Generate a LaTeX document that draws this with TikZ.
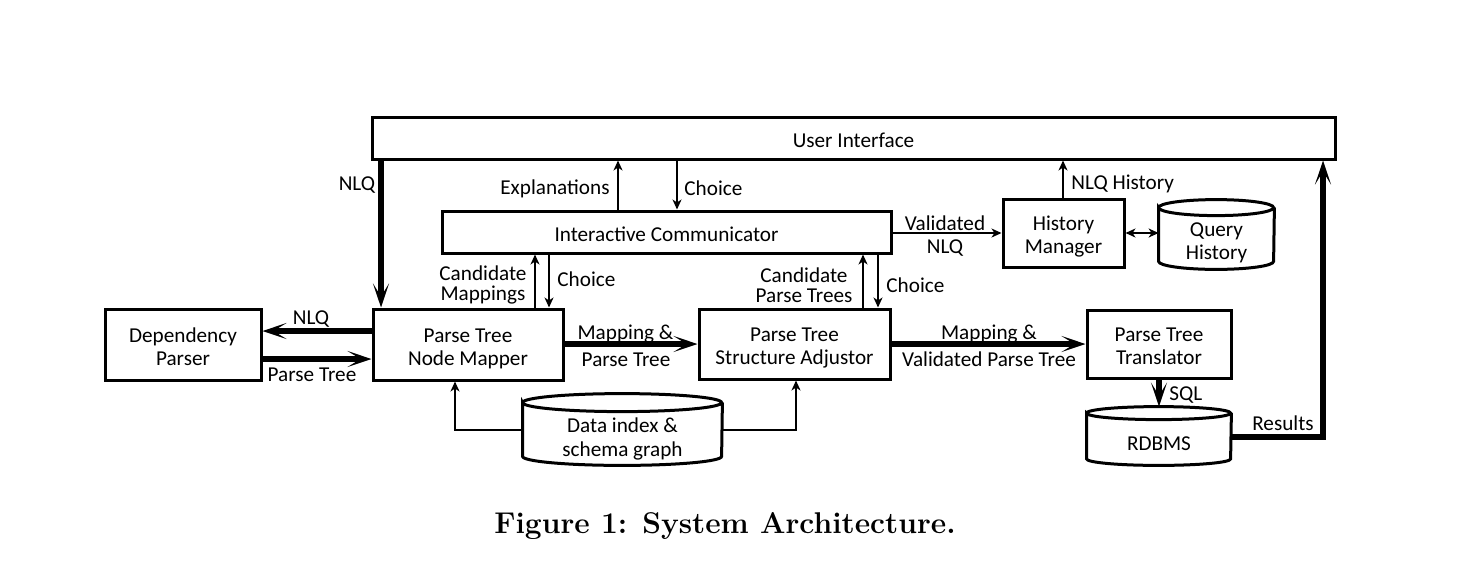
\documentclass[tikz,border=0pt]{standalone}
\usepackage{fontspec}
\newfontfamily\diafont{Carlito}
\usetikzlibrary{arrows.meta,calc}
\newcommand\drawcyl[3]{%
  \draw[cylline] ($(#1.north west)+(0pt,-#3)$) arc[start angle=180,end angle=-180,x radius=#2,y radius=#3]
    -- ($(#1.south west)+(0pt,#3)$) arc[start angle=180,end angle=360,x radius=#2,y radius=#3]
    -- ($(#1.north east)+(0pt,-#3)$);}
\newcommand\bxt[1]{\raisebox{-5pt}[0pt][0pt]{\begin{tabular}{@{}c@{}}#1\end{tabular}}}
\begin{document}
\begin{tikzpicture}[x=0.5pt,y=-0.5pt,
  box/.style={draw, line width=1.5pt, inner sep=0pt, align=center, font=\diafont\fontsize{10.6}{11.5}\selectfont},
  holder/.style={inner sep=0pt},
  cylline/.style={line width=1.5pt},
  cyltext/.style={inner sep=0pt, yshift=-1.1pt, align=center, font=\diafont\fontsize{10.6}{11.8}\selectfont},
  lbl/.style={inner sep=0pt, yshift=-1pt, align=center, font=\diafont\fontsize{10.6}{10}\selectfont},
  big/.style={line width=2.6pt, -{Stealth[length=12pt,width=8pt,inset=6.5pt]}},
  thinarr/.style={line width=0.8pt, -{Stealth[length=5pt,width=4.5pt,inset=1.5pt]}},
  thinline/.style={line width=0.8pt},
]
\useasboundingbox (0,0) rectangle (1484,574);

% boxes
\node[box, minimum width=481.5pt, minimum height=21pt] (UI) at (853.5,138) {\bxt{User Interface}};
\node[box, minimum width=224.5pt, minimum height=21pt] (IC) at (666.5,232) {\bxt{Interactive Communicator}};
\node[box, minimum width=60.5pt, minimum height=34pt] (HM) at (1063.5,233) {\bxt{History\\Manager}};
\node[box, minimum width=78pt, minimum height=35.5pt] (DP) at (183,344.5) {\bxt{Dependency\\Parser}};
\node[box, minimum width=95pt, minimum height=35.5pt] (NM) at (468,344.5) {\bxt{Parse Tree\\Node Mapper}};
\node[box, minimum width=95.5pt, minimum height=35pt] (SA) at (794.5,344) {\bxt{Parse Tree\\Structure Adjustor}};
\node[box, minimum width=72pt, minimum height=34pt] (PT) at (1159,344) {\bxt{Parse Tree\\Translator}};

% cylinders
\node[holder, minimum width=99.5pt, minimum height=35.5pt] (DI) at (622.5,429.5) {};
\node[holder, minimum width=57.5pt, minimum height=34.5pt] (QH) at (1216.5,234.5) {};
\node[holder, minimum width=72pt, minimum height=29pt] (RD) at (1159,436) {};
\drawcyl{DI}{49.75pt}{4.5pt}
\drawcyl{QH}{28.75pt}{4pt}
\drawcyl{RD}{36pt}{3.25pt}
\node[cyltext] (DIt) at (622.5,436.5) {Data index \&\\schema graph};
\node[cyltext] (QHt) at (1216.5,240.5) {Query\\History};
\node[cyltext] (RDt) at (1159,441.5) {RDBMS};

% helper coordinates
\coordinate (xNLQ) at (381,0);
\coordinate (xExp) at (618,0);
\coordinate (xCh1) at (677,0);
\coordinate (xCM) at (535,0);
\coordinate (xCh2) at (549,0);
\coordinate (xCPT) at (863,0);
\coordinate (xCh3) at (878,0);
\coordinate (xHist) at (1063,0);
\coordinate (xSQL) at (1159,0);
\coordinate (xRes) at (1323,0);
\coordinate (xDIl) at (455,0);
\coordinate (xDIr) at (796,0);
\coordinate (yNLQ) at (0,331);
\coordinate (yPT) at (0,359);
\coordinate (yMid) at (0,344);
\coordinate (yVal) at (0,233);
\coordinate (yRes) at (0,437);
\coordinate (yDI) at (0,430);

% connectors
\draw[big] (UI.south -| xNLQ) -- (NM.north -| xNLQ);
\draw[thinarr] (IC.north -| xExp) -- (UI.south -| xExp);
\draw[thinarr] (UI.south -| xCh1) -- (IC.north -| xCh1);
\draw[thinarr] (NM.north -| xCM) -- (IC.south -| xCM);
\draw[thinarr] (IC.south -| xCh2) -- (NM.north -| xCh2);
\draw[thinarr] (SA.north -| xCPT) -- (IC.south -| xCPT);
\draw[thinarr] (IC.south -| xCh3) -- (SA.north -| xCh3);
\draw[thinarr] (IC.east |- yVal) -- (HM.west |- yVal);
\draw[thinarr] (HM.north -| xHist) -- (UI.south -| xHist);
\draw[thinline, {Stealth[length=5pt,width=4.5pt,inset=1.5pt]}-{Stealth[length=5pt,width=4.5pt,inset=1.5pt]}] (HM.east) -- (HM.east -| QH.west);
\draw[big] (NM.west |- yNLQ) -- (DP.east |- yNLQ);
\draw[big] (DP.east |- yPT) -- (NM.west |- yPT);
\draw[big] (NM.east |- yMid) -- (SA.west |- yMid);
\draw[big] (SA.east |- yMid) -- (PT.west |- yMid);
\draw[big] (PT.south -| xSQL) -- (RD.north -| xSQL);
\draw[big, line join=miter] (RD.east |- yRes) -| (UI.south -| xRes);
\draw[thinarr] (DI.west |- yDI) -| (NM.south -| xDIl);
\draw[thinarr] (DI.east |- yDI) -| (SA.south -| xDIr);

% labels
\node[lbl] (lNLQa) at (357,183) {NLQ};
\node[lbl] (lExp) at (555,187) {Explanations};
\node[lbl, anchor=west] (lCh1) at (684,186) {Choice};
\node[lbl, anchor=west] (lNLQH) at (1071,182) {NLQ History};
\node[lbl, font=\diafont\fontsize{10.6}{11.5}\selectfont] (lVal) at (945,234.5) {Validated\\NLQ};
\node[lbl] (lCM) at (483,283) {Candidate\\Mappings};
\node[lbl, anchor=west] (lCh2) at (557,277) {Choice};
\node[lbl] (lCPT) at (804,283) {Candidate\\Parse Trees};
\node[lbl, anchor=west] (lCh3) at (886,283) {Choice};
\node[lbl] (lNLQb) at (311,317) {NLQ};
\node[lbl] (lPTa) at (312,373) {Parse Tree};
\node[lbl] (lMP1) at (625.5,332) {Mapping \&};
\node[lbl] (lMP2) at (626,358) {Parse Tree};
\node[lbl] (lMV1) at (989,332) {Mapping \&};
\node[lbl] (lMV2) at (989,357) {Validated Parse Tree};
\node[lbl, anchor=west] (lSQL) at (1169,393) {SQL};
\node[lbl] (lRes) at (1283,421) {Results};

% caption
\node[inner sep=0pt, anchor=base, font=\fontsize{15}{18}\selectfont\bfseries] (cap) at (725,533) {Figure 1: System Architecture.};
\end{tikzpicture}
\end{document}
